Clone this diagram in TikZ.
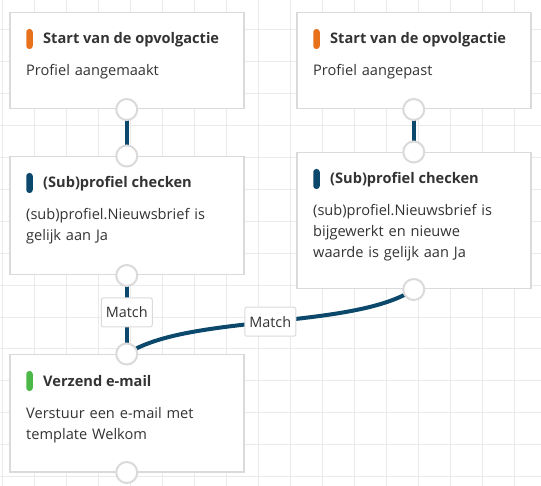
\documentclass[tikz,border=0pt]{standalone}
\usepackage{fontspec}
\setmainfont{Open Sans}
\usetikzlibrary{backgrounds}
\definecolor{gridgray}{RGB}{234,234,234}
\definecolor{cardgray}{RGB}{218,218,218}
\definecolor{flowblue}{RGB}{11,72,107}
\definecolor{startorange}{RGB}{232,113,28}
\definecolor{sendgreen}{RGB}{76,184,72}
\definecolor{textdark}{RGB}{51,51,51}

\begin{document}
\begin{tikzpicture}[
    x=1pt, y=-1pt,
    card/.style={draw=cardgray, line width=1.5pt, fill=white, minimum width=234pt,
        anchor=north west, inner sep=0pt},
    bar/.style={fill=#1, rounded corners=3pt, minimum width=6.5pt, minimum height=20pt, inner sep=0pt},
    cardtitle/.style={font=\fontsize{14.6}{17}\selectfont\bfseries, text=textdark,
        anchor=base west, inner sep=0pt},
    cardtext/.style={font=\fontsize{14.6}{21}\selectfont, text=textdark, anchor=base west,
        inner sep=0pt, text width=210pt, align=left},
    port/.style={circle, draw=cardgray, line width=2pt, fill=white, minimum size=21pt, inner sep=0pt},
    flow/.style={draw=flowblue, line width=4pt},
    matchlabel/.style={draw=cardgray, line width=1pt, fill=white, rounded corners=2pt,
        minimum width=51pt, minimum height=29pt, inner sep=0pt,
        font=\fontsize{14.4}{17}\selectfont, text=textdark}
]

\useasboundingbox (0,0) rectangle (541,486);

% cards
\node[card, minimum height=96pt] (start1) at (9,12) {};
\node[card, minimum height=96pt] (start2) at (296,12) {};
\node[card, minimum height=118pt] (check1) at (9,156) {};
\node[card, minimum height=136pt] (check2) at (296,152) {};
\node[card, minimum height=117pt] (send) at (9,354) {};

\node[bar=startorange] (start1bar) at ([shift={(20.5,27)}]start1.north west) {};
\node[cardtitle] (start1title) at ([shift={(34,32)}]start1.north west) {Start van de opvolgactie};
\node[cardtext] (start1text) at ([shift={(17,64)}]start1.north west) {Profiel aangemaakt};

\node[bar=startorange] (start2bar) at ([shift={(20.5,27)}]start2.north west) {};
\node[cardtitle] (start2title) at ([shift={(34,32)}]start2.north west) {Start van de opvolgactie};
\node[cardtext] (start2text) at ([shift={(17,64)}]start2.north west) {Profiel aangepast};

\node[bar=flowblue] (check1bar) at ([shift={(20.5,27)}]check1.north west) {};
\node[cardtitle] (check1title) at ([shift={(34,32)}]check1.north west) {(Sub)profiel checken};
\node[cardtext] (check1text) at ([shift={(17,64)}]check1.north west)
    {(sub)profiel.Nieuwsbrief is\\gelijk aan Ja};

\node[bar=flowblue] (check2bar) at ([shift={(20.5,27)}]check2.north west) {};
\node[cardtitle] (check2title) at ([shift={(34,32)}]check2.north west) {(Sub)profiel checken};
\node[cardtext] (check2text) at ([shift={(17,64)}]check2.north west)
    {(sub)profiel.Nieuwsbrief is\\bijgewerkt en nieuwe\\waarde is gelijk aan Ja};

\node[bar=sendgreen] (sendbar) at ([shift={(20.5,27)}]send.north west) {};
\node[cardtitle] (sendtitle) at ([shift={(34,32)}]send.north west) {Verzend e-mail};
\node[cardtext] (sendtext) at ([shift={(17,64)}]send.north west)
    {Verstuur een e-mail met\\template Welkom};

% ports
\node[port] (start1out) at (start1.south) {};
\node[port] (start2out) at (start2.south) {};
\node[port] (check1in) at (check1.north) {};
\node[port] (check1out) at (check1.south) {};
\node[port] (check2in) at (check2.north) {};
\node[port] (check2out) at (check2.south) {};
\node[port] (sendin) at (send.north) {};
\node[port] (sendout) at (send.south) {};

\begin{scope}[on background layer]
% grid
\foreach \gx in {0,...,16}
    \draw[gridgray, line width=1pt] (2.5+32*\gx,0) -- (2.5+32*\gx,486);
\foreach \gy in {0,...,15}
    \draw[gridgray, line width=1pt] (0,-1.9+31.9*\gy) -- (541,-1.9+31.9*\gy);

% connections
\draw[flow] (start1out.center) -- (check1in.center);
\draw[flow] (start2out.center) -- (check2in.center);
\draw[flow] (check1out.center) -- (sendin.center) node[matchlabel, pos=0.47] (match1) {Match};
\draw[flow] (check2out.center) .. controls +(-60,40) and +(60,-40) .. (sendin.center)
    node[matchlabel, pos=0.5] (match2) {Match};
\end{scope}

\end{tikzpicture}
\end{document}
